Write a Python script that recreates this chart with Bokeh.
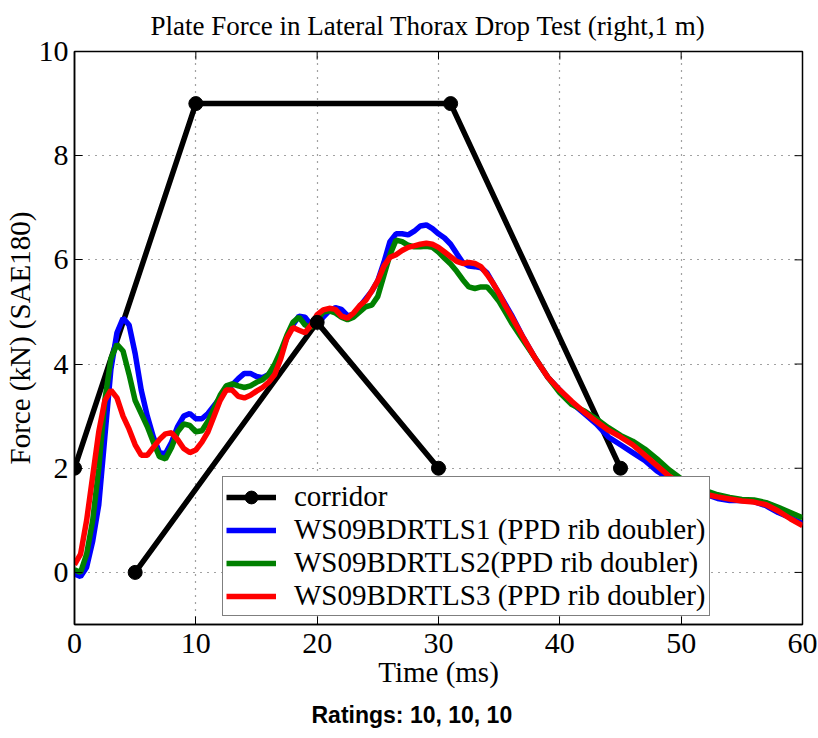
import numpy as np
from bokeh.plotting import figure
from bokeh.models import Legend, LegendItem, Title, Range1d, FixedTicker
from bokeh.embed import file_html
from bokeh.resources import INLINE

# ---------------- data ----------------
corridor_t = [0, 10, 31, 45, np.nan, 5, 20, 30]
corridor_f = [2, 9, 9, 2, np.nan, 0, 4.8, 2]

time_ms = [0, 0.5, 1.0, 1.5, 2.0, 2.5, 3.0, 3.5, 4.0, 4.5, 5.0, 5.5, 6.0, 6.5, 7.0, 7.5,
           8.0, 8.5, 9.0, 9.5, 10.0, 10.5, 11.0, 11.5, 12.0, 12.5, 13.0, 13.5, 14.0, 14.5,
           15.0, 15.5, 16.0, 16.5, 17.0, 17.5, 18.0, 18.5, 19.0, 19.5, 20.0, 20.5, 21.0,
           21.5, 22.0, 22.5, 23.0, 23.5, 24.0, 24.5, 25.0, 25.5, 26.0, 26.5, 27.0, 27.5,
           28.0, 28.5, 29.0, 29.5, 30.0, 30.5, 31.0, 31.5, 32.0, 32.5, 33.0, 33.5, 34.0,
           34.5, 35.0, 35.5, 36.0, 37, 38, 39, 40, 41, 42, 43, 44, 45, 46, 47, 48, 49, 50,
           51, 52, 53, 54, 55, 56, 57, 58, 59, 60]

ws1 = [-0.03, -0.08, 0.1, 0.6, 1.3, 2.6, 3.9, 4.6, 4.88, 4.75, 4.2, 3.5, 3.0, 2.6, 2.3, 2.28,
       2.5, 2.8, 3.0, 3.05, 2.95, 2.95, 3.05, 3.2, 3.35, 3.5, 3.6, 3.72, 3.82, 3.82,
       3.76, 3.74, 3.8, 3.95, 4.2, 4.5, 4.75, 4.92, 4.9, 4.75, 4.75, 4.9, 5.02,
       5.08, 5.05, 4.93, 4.95, 5.1, 5.25, 5.4, 5.6, 5.95, 6.35, 6.5, 6.5, 6.48,
       6.55, 6.65, 6.67, 6.6, 6.5, 6.42, 6.3, 6.12, 5.95, 5.88, 5.87, 5.85, 5.75,
       5.55, 5.35, 5.15, 4.95, 4.5, 4.1, 3.75, 3.5, 3.25, 3.05, 2.85, 2.6, 2.45, 2.3, 2.15, 1.95, 1.8, 1.7,
       1.6, 1.5, 1.42, 1.38, 1.38, 1.36, 1.28, 1.15, 1.05, 0.94]

ws2 = [0.05, 0.0, 0.35, 1.0, 2.0, 3.3, 4.1, 4.38, 4.25, 3.8, 3.3, 3.05, 2.8, 2.5, 2.22, 2.18,
       2.4, 2.7, 2.85, 2.82, 2.7, 2.72, 2.9, 3.15, 3.4, 3.58, 3.62, 3.58, 3.55, 3.58,
       3.65, 3.7, 3.8, 4.0, 4.25, 4.55, 4.8, 4.9, 4.75, 4.7, 4.85, 5.0, 5.02,
       4.98, 4.9, 4.85, 4.9, 5.0, 5.1, 5.13, 5.3, 5.7, 6.1, 6.38, 6.35, 6.28,
       6.25, 6.25, 6.26, 6.24, 6.15, 6.03, 5.92, 5.78, 5.62, 5.48, 5.45, 5.48, 5.48,
       5.35, 5.2, 5.0, 4.8, 4.45, 4.1, 3.75, 3.45, 3.22, 3.1, 2.95, 2.78, 2.63, 2.52, 2.37, 2.18, 1.97, 1.8,
       1.67, 1.57, 1.49, 1.44, 1.4, 1.39, 1.34, 1.25, 1.15, 1.05]

ws3 = [0.15, 0.35, 1.0, 1.85, 2.7, 3.3, 3.5, 3.35, 3.0, 2.75, 2.45, 2.25, 2.25, 2.4, 2.55, 2.66,
       2.68, 2.55, 2.38, 2.3, 2.35, 2.5, 2.7, 3.0, 3.3, 3.5, 3.5, 3.38, 3.35, 3.4,
       3.48, 3.55, 3.65, 3.8, 4.1, 4.5, 4.7, 4.65, 4.6, 4.75, 4.95, 5.04, 5.07,
       5.05, 4.92, 4.88, 4.98, 5.12, 5.22, 5.4, 5.6, 5.88, 6.05, 6.1, 6.18, 6.24,
       6.27, 6.3, 6.32, 6.3, 6.24, 6.15, 6.06, 5.97, 5.93, 5.95, 5.93, 5.87, 5.72,
       5.55, 5.35, 5.12, 4.92, 4.5, 4.1, 3.75, 3.5, 3.28, 3.08, 2.9, 2.73, 2.6, 2.45, 2.25, 2.05, 1.85, 1.7,
       1.6, 1.5, 1.45, 1.41, 1.37, 1.35, 1.3, 1.18, 1.03, 0.9]

title_text = "Plate Force in Lateral Thorax Drop Test (right,1 m)"
ratings_text = "Ratings: 10, 10, 10"
labels = ["corridor",
          "WS09BDRTLS1 (PPD rib doubler)",
          "WS09BDRTLS2(PPD rib doubler)",
          "WS09BDRTLS3 (PPD rib doubler)"]
x_ticks = [0, 10, 20, 30, 40, 50, 60]
y_ticks = [0, 2, 4, 6, 8, 10]
x_min, x_max = 0, 60
y_min, y_max = -1, 10

# ---------------- figure ----------------
SERIF = "Liberation Serif"
p = figure(width=818, height=738, output_backend="svg", toolbar_location=None,
           x_range=Range1d(x_min, x_max), y_range=Range1d(y_min, y_max),
           min_border_left=74, min_border_right=16, min_border_top=51, min_border_bottom=114)
p.title.text = title_text
p.title.align = "left"
p.title.offset = 76
p.title.vertical_align = "top"
p.title.text_font = SERIF
p.title.text_font_size = "27px"
p.title.text_line_height = 1.0
p.title.text_font_style = "normal"
p.title.text_color = "black"
p.title.standoff = 18

p.outline_line_color = "black"
p.outline_line_width = 1.5
p.background_fill_color = "white"
p.border_fill_color = "white"

for ax in (p.xaxis[0], p.yaxis[0]):
    ax.axis_line_color = "black"
    ax.axis_line_width = 1.5
    ax.major_tick_in = 8
    ax.major_tick_out = 0
    ax.major_tick_line_color = "black"
    ax.minor_tick_line_color = None
    ax.major_label_text_font = SERIF
    ax.major_label_text_font_size = "30px"
    ax.major_label_text_color = "black"
    ax.axis_label_text_font = SERIF
    ax.axis_label_text_font_size = "29px"
    ax.axis_label_text_font_style = "normal"
    ax.axis_label_text_color = "black"

p.xaxis[0].ticker = FixedTicker(ticks=x_ticks)
p.yaxis[0].ticker = FixedTicker(ticks=y_ticks)
p.xaxis[0].axis_label = "Time (ms)"
p.yaxis[0].axis_label = "Force (kN) (SAE180)"
p.xaxis[0].major_label_standoff = 9
p.xaxis[0].axis_label_standoff = 0
p.yaxis[0].major_label_standoff = 6
p.yaxis[0].axis_label_standoff = 0

p.xgrid.ticker = FixedTicker(ticks=x_ticks)
p.ygrid.ticker = FixedTicker(ticks=y_ticks)
for g in (p.xgrid[0], p.ygrid[0]):
    g.grid_line_color = "#444444"
    g.grid_line_dash = "1 6"
    g.grid_line_width = 1.2

# inward box ticks on top and right edges (half of each dash is clipped by the frame)
p.scatter(x_ticks, [y_max] * len(x_ticks), marker="dash", angle=np.pi / 2, size=16,
          line_color="black", line_width=1)
p.scatter([x_max] * len(y_ticks), y_ticks, marker="dash", size=16,
          line_color="black", line_width=1)

# ---------------- glyphs ----------------
r_corr_line = p.line(corridor_t, corridor_f, line_color="black", line_width=5.5)
r1 = p.line(time_ms, ws1, line_color="#0000FF", line_width=5.5)
r2 = p.line(time_ms, ws2, line_color="#008000", line_width=5.5)
r3 = p.line(time_ms, ws3, line_color="#FF0000", line_width=5.5)
r_corr_pts = p.scatter(corridor_t, corridor_f, size=14, fill_color="black", line_color="black")

legend = Legend(items=[
    LegendItem(label=labels[0], renderers=[r_corr_line, r_corr_pts]),
    LegendItem(label=labels[1], renderers=[r1]),
    LegendItem(label=labels[2], renderers=[r2]),
    LegendItem(label=labels[3], renderers=[r3]),
], location=(148, 8))
legend.label_text_font = SERIF
legend.label_text_font_size = "29px"
legend.label_text_color = "black"
legend.glyph_width = 50
legend.glyph_height = 32
legend.label_height = 32
legend.label_standoff = 18
legend.spacing = 0
legend.padding = 3
legend.margin = 0
legend.border_line_color = "black"
legend.border_line_width = 1.5
legend.background_fill_color = "white"
legend.background_fill_alpha = 1.0
p.add_layout(legend, "center")

ratings = Title(text=ratings_text, align="left", offset=237, text_font="Liberation Sans",
                text_font_style="bold", text_font_size="23px", text_color="black",
                standoff=18)
p.add_layout(ratings, "below")

open("out.html", "w").write(file_html(p, INLINE))
